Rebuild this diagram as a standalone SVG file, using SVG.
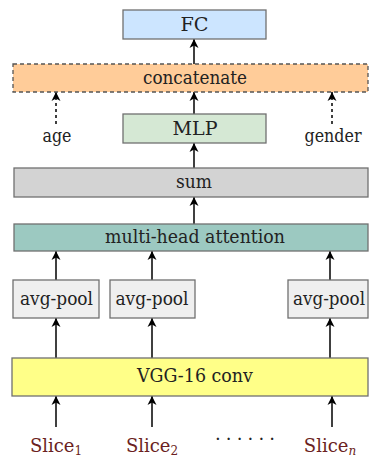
<svg xmlns="http://www.w3.org/2000/svg" width="369" height="461" viewBox="0 0 369 461">
<defs>
<marker id="ah" markerUnits="userSpaceOnUse" markerWidth="12" markerHeight="12" viewBox="-10 -6 12 12" refX="0" refY="0" orient="auto">
<path d="M0,0 L-9,-4.5 L-6.5,0 L-9,4.5 z" fill="#000"/>
</marker>
</defs>
<style>
.box{stroke:#707070;stroke-width:1.3}
.t{font-family:"DejaVu Serif","Liberation Serif",serif;font-size:18px;fill:#222;text-anchor:middle}
.s{font-family:"DejaVu Serif","Liberation Serif",serif;font-size:18px;fill:#6b1f22;text-anchor:middle}
.a{stroke:#000;stroke-width:1.5;fill:none;marker-end:url(#ah)}
.d{stroke:#000;stroke-width:1.5;fill:none;stroke-dasharray:3,3;marker-end:url(#ah)}
</style>
<g id="connectors">
<line class="a" x1="194" y1="64" x2="194" y2="39"/>
<line class="a" x1="194" y1="114" x2="194" y2="92"/>
<line class="d" x1="56" y1="124" x2="56" y2="92"/>
<line class="d" x1="332" y1="124" x2="332" y2="92"/>
<line class="a" x1="194" y1="168" x2="194" y2="143"/>
<line class="a" x1="194" y1="224" x2="194" y2="197"/>
<line class="a" x1="56" y1="280" x2="56" y2="251"/>
<line class="a" x1="152" y1="280" x2="152" y2="251"/>
<line class="a" x1="330" y1="280" x2="330" y2="251"/>
<line class="a" x1="56" y1="358" x2="56" y2="318"/>
<line class="a" x1="152" y1="358" x2="152" y2="318"/>
<line class="a" x1="330" y1="358" x2="330" y2="318"/>
<line class="a" x1="56" y1="427" x2="56" y2="396"/>
<line class="a" x1="152" y1="427" x2="152" y2="396"/>
<line class="a" x1="332" y1="427" x2="332" y2="396"/>
</g>
<g id="fc"><rect class="box" x="123" y="10" width="143" height="29" fill="#cce5ff"/><text class="t" x="194.5" y="31" textLength="28" lengthAdjust="spacingAndGlyphs">FC</text></g>
<g id="concatenate"><rect x="13" y="64" width="355" height="28" fill="#ffcc99" stroke="#555" stroke-width="1.3" stroke-dasharray="4,3"/><text class="t" x="195" y="84" textLength="104" lengthAdjust="spacingAndGlyphs">concatenate</text></g>
<g id="age"><text class="t" x="57" y="142" textLength="29" lengthAdjust="spacingAndGlyphs">age</text></g>
<g id="gender"><text class="t" x="333" y="142" textLength="57" lengthAdjust="spacingAndGlyphs">gender</text></g>
<g id="mlp"><rect class="box" x="123" y="114" width="143" height="29" fill="#d5e8d4"/><text class="t" x="195" y="135" textLength="45" lengthAdjust="spacingAndGlyphs">MLP</text></g>
<g id="sum"><rect class="box" x="14" y="168" width="354" height="29" fill="#d3d3d3"/><text class="t" x="194" y="188" textLength="36" lengthAdjust="spacingAndGlyphs">sum</text></g>
<g id="attention"><rect class="box" x="14" y="224" width="354" height="27" fill="#9cc9c1"/><text class="t" x="195" y="243" textLength="180" lengthAdjust="spacingAndGlyphs">multi-head attention</text></g>
<g id="pool1"><rect class="box" x="13" y="280" width="86" height="38" fill="#efefef"/><text class="t" x="56.5" y="305" textLength="73" lengthAdjust="spacingAndGlyphs">avg-pool</text></g>
<g id="pool2"><rect class="box" x="110" y="280" width="85" height="38" fill="#efefef"/><text class="t" x="152" y="305" textLength="73" lengthAdjust="spacingAndGlyphs">avg-pool</text></g>
<g id="pool3"><rect class="box" x="288" y="280" width="80" height="38" fill="#efefef"/><text class="t" x="329" y="305" textLength="72" lengthAdjust="spacingAndGlyphs">avg-pool</text></g>
<g id="vgg"><rect class="box" x="12" y="358" width="356" height="38" fill="#ffff88"/><text class="t" x="195" y="382" textLength="116" lengthAdjust="spacingAndGlyphs">VGG-16 conv</text></g>
<g id="slice1"><text class="s" x="56" y="452">Slice<tspan font-size="12" dy="3">1</tspan></text></g>
<g id="slice2"><text class="s" x="152" y="452">Slice<tspan font-size="12" dy="3">2</tspan></text></g>
<g id="dots"><text class="t" x="245" y="440" textLength="60" lengthAdjust="spacing">......</text></g>
<g id="slicen"><text class="s" x="330" y="452">Slice<tspan font-size="12" dy="3" font-style="italic">n</tspan></text></g>
</svg>
